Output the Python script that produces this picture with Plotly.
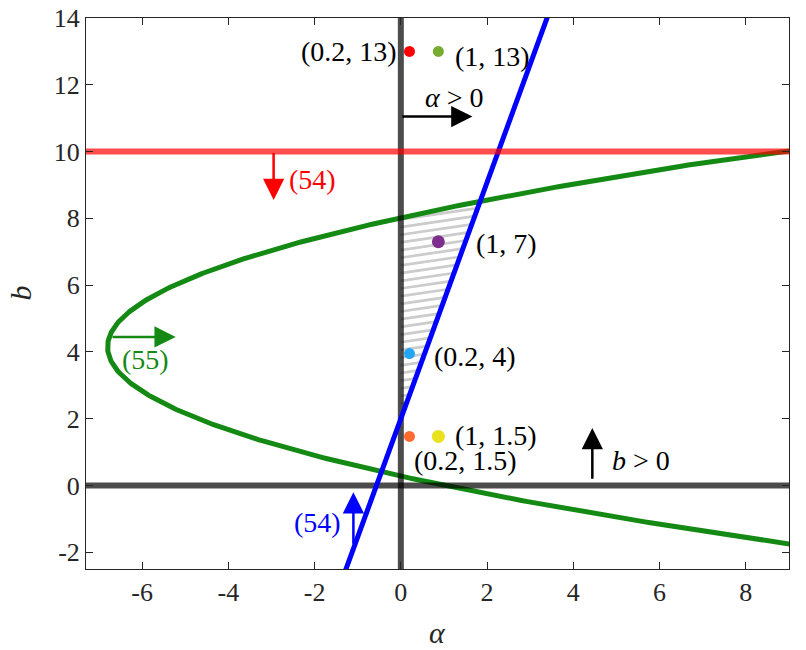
import numpy as np
import plotly.graph_objects as go

# ---- data ----
x_ticks = [-6, -4, -2, 0, 2, 4, 6, 8]
x_ticktext = ["-6", "-4", "-2", "0", "2", "4", "6", "8"]
y_ticks = [-2, 0, 2, 4, 6, 8, 10, 12, 14]
y_ticktext = ["-2", "0", "2", "4", "6", "8", "10", "12", "14"]

red_level = 10.0                 # constraint (54), upper
blue_slope, blue_icpt = 3.54, 2.0  # constraint (54), lower: b = slope*alpha + icpt
para_a, para_b0, para_alpha0 = 0.454, 4.15, -6.8  # constraint (55): alpha = a(b-b0)^2 + alpha0

pt_alpha = [0.2, 0.87, 0.87, 0.2, 0.2, 0.87]
pt_b = [13.0, 13.0, 7.3, 3.95, 1.47, 1.47]
pt_color = ["#FF0000", "#77AC30", "#7E2F8E", "#22A6F5", "#FF6A2E", "#E9E21C"]
pt_size = [11, 11, 13, 11, 11, 13]
pt_label = ["(0.2, 13)", "(1, 13)", "(1, 7)", "(0.2, 4)", "(0.2, 1.5)", "(1, 1.5)"]

hatch_start, hatch_step, hatch_slope = 2.45, 0.23, 0.19

XR = [-7.3, 9.0]
YR = [-2.5, 14.0]
FONT = "Liberation Serif, DejaVu Serif, serif"
TXT = "#262626"

fig = go.Figure()

# ---- hatch lines in the feasible region ----
hx, hy = [], []
c = hatch_start
aa = np.linspace(0, 4, 4001)
while c < 8.6:
    bb = c + hatch_slope * aa
    ok = (bb >= blue_slope * aa + blue_icpt) & (aa >= para_a * (bb - para_b0) ** 2 + para_alpha0)
    if ok.any():
        idx = np.where(ok)[0]
        hx += [aa[idx[0]], aa[idx[-1]], None]
        hy += [bb[idx[0]], bb[idx[-1]], None]
    c += hatch_step
fig.add_trace(go.Scatter(x=hx, y=hy, mode="lines", line=dict(color="#cccccc", width=2.7),
                         hoverinfo="skip"))

# ---- parabola (55) ----
bgrid = np.linspace(-4, 12, 600)
fig.add_trace(go.Scatter(x=para_a * (bgrid - para_b0) ** 2 + para_alpha0, y=bgrid, mode="lines",
                         line=dict(color="#148A14", width=5)))

# ---- zero lines ----
fig.add_trace(go.Scatter(x=[0, 0], y=YR, mode="lines", line=dict(color="rgba(0,0,0,0.7)", width=6)))
fig.add_trace(go.Scatter(x=XR, y=[0, 0], mode="lines", line=dict(color="rgba(0,0,0,0.7)", width=6)))

# ---- blue line (54) ----
agrid = np.array([-2.0, 4.0])
fig.add_trace(go.Scatter(x=agrid, y=blue_slope * agrid + blue_icpt, mode="lines",
                         line=dict(color="#0000FF", width=5)))

# ---- red line (54) ----
fig.add_trace(go.Scatter(x=XR, y=[red_level, red_level], mode="lines",
                         line=dict(color="rgba(255,0,0,0.7)", width=6)))

# ---- points ----
for a, b, col, s in zip(pt_alpha, pt_b, pt_color, pt_size):
    fig.add_trace(go.Scatter(x=[a], y=[b], mode="markers",
                             marker=dict(color=col, size=s, line=dict(width=0))))

annos = []
# arrows: (tail_x, tail_y, head_x, head_y, color)
arrows = [
    (0.0, 11.05, 1.66, 11.05, "black"),
    (-2.95, 10.0, -2.95, 8.55, "#FF0000"),
    (-6.72, 4.45, -5.22, 4.45, "#148A14"),
    (-1.10, -1.79, -1.10, -0.2, "#0000FF"),
    (4.44, 0.16, 4.44, 1.72, "black"),
]
for tx, ty, hx_, hy_, col in arrows:
    annos.append(dict(x=hx_, y=hy_, ax=tx, ay=ty, xref="x", yref="y", axref="x", ayref="y",
                      text="", showarrow=True, arrowhead=2, arrowsize=1.7, arrowwidth=2.5,
                      arrowcolor=col, standoff=0, startstandoff=0))

# text labels: (x, y, text, color, xanchor)
labels = [
    (-0.05, 13.0, pt_label[0], "black", "right"),
    (1.2, 12.85, pt_label[1], "black", "left"),
    (1.7, 7.25, pt_label[2], "black", "left"),
    (0.72, 3.87, pt_label[3], "black", "left"),
    (0.27, 0.76, pt_label[4], "black", "left"),
    (1.2, 1.5, pt_label[5], "black", "left"),
    (1.24, 11.63, "<i>α</i> > 0", "black", "center"),
    (4.85, 0.76, "<i>b</i> > 0", "black", "left"),
    (-2.63, 9.17, "(54)", "#FF0000", "left"),
    (-5.91, 3.78, "(55)", "#148A14", "center"),
    (-1.33, -1.1, "(54)", "#0000FF", "right"),
]
for x, y, t, col, xa in labels:
    annos.append(dict(x=x, y=y, xref="x", yref="y", text=t, showarrow=False, xanchor=xa,
                      yanchor="middle", font=dict(family=FONT, size=28, color=col)))

# axis titles
annos.append(dict(x=0.5, y=0, xref="paper", yref="paper", text="<i>α</i>", showarrow=False,
                  yshift=-63, yanchor="middle", font=dict(family=FONT, size=30, color=TXT)))
annos.append(dict(x=0, y=0.5, xref="paper", yref="paper", text="<i>b</i>", showarrow=False,
                  xshift=-66, xanchor="center", textangle=-90,
                  font=dict(family=FONT, size=30, color=TXT)))

axis_common = dict(showgrid=False, zeroline=False, showline=True, linecolor=TXT, linewidth=1,
                   mirror="allticks", ticks="inside", ticklen=7, tickcolor=TXT, tickwidth=1,
                   automargin=False, ticklabeloverflow="allow",
                   tickfont=dict(family=FONT, size=26, color=TXT))

fig.update_layout(
    width=798, height=642,
    margin=dict(l=78, r=17, t=10, b=81),
    font=dict(family=FONT),
    plot_bgcolor="white", paper_bgcolor="white",
    showlegend=False,
    annotations=annos,
    xaxis=dict(range=XR, tickvals=x_ticks, ticktext=x_ticktext, **axis_common),
    yaxis=dict(range=YR, tickvals=y_ticks, ticktext=y_ticktext, **axis_common),
)

fig.write_html("out.html")
